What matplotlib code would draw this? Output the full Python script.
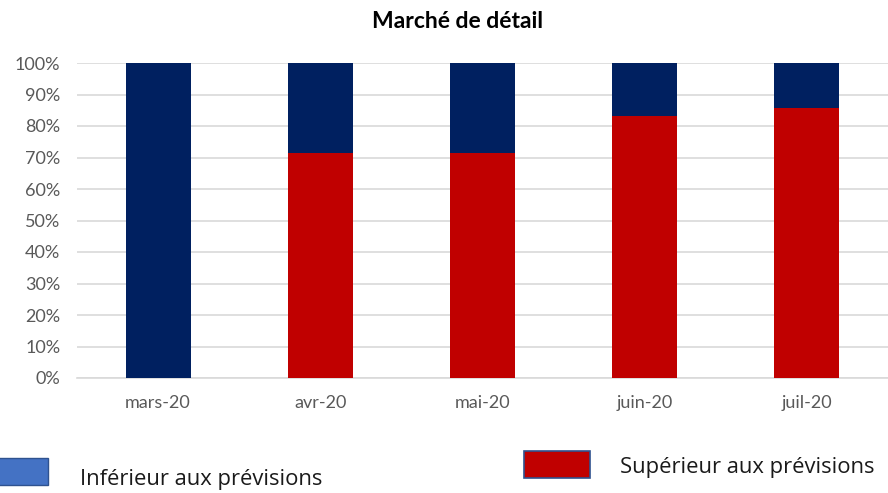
import matplotlib
matplotlib.use("Agg")
import matplotlib.pyplot as plt
from matplotlib.patches import Rectangle
import numpy as np

categories = ["mars-20", "avr-20", "mai-20", "juin-20", "juil-20"]
superieur = [0.0, 71.4, 71.4, 83.3, 85.7]
inferieur = [100.0, 28.6, 28.6, 16.7, 14.3]
yticks = [0, 10, 20, 30, 40, 50, 60, 70, 80, 90, 100]
ytick_labels = [f"{v}%" for v in yticks]
title = "Marché de détail"
legend_labels = ["Inférieur aux prévisions", "Supérieur aux prévisions"]

W, H = 888, 493
fig = plt.figure(figsize=(W / 100, H / 100), dpi=100)
ax = fig.add_axes([77 / W, 1 - 378 / H, (888 - 77) / W, (378 - 63) / H])

x = np.arange(len(categories))
red = "#C00000"
navy = "#002060"
ax.bar(x, superieur, width=0.4, color=red, zorder=3)
ax.bar(x, inferieur, width=0.4, bottom=superieur, color=navy, zorder=3)

ax.set_xlim(-0.5, len(categories) - 0.5)
ax.set_ylim(0, 100)
ax.set_yticks(yticks)
ax.set_yticklabels(ytick_labels)
ax.set_xticks(x)
ax.set_xticklabels(categories)
for lab in ax.get_yticklabels() + ax.get_xticklabels():
    lab.set_fontfamily("Lato")
    lab.set_fontsize(13)
    lab.set_color("#595959")
ax.tick_params(axis="y", length=0, pad=12)
ax.tick_params(axis="x", length=0, pad=12)
ax.yaxis.grid(True, color="#D9D9D9", linewidth=1.2, zorder=0)
for s in ["top", "right", "left"]:
    ax.spines[s].set_visible(False)
ax.spines["bottom"].set_color("#D9D9D9")
ax.spines["bottom"].set_linewidth(1.2)

fig.text(457 / W, 1 - 21 / H, title, ha="center", va="center",
         fontsize=16.5, fontweight="bold", fontfamily="Lato")

# legend drawn manually
fig.patches.append(Rectangle((-2 / W, 1 - 485 / H), 50 / W, 27 / H,
                             transform=fig.transFigure, facecolor="#4472C4",
                             edgecolor="#2F528F", linewidth=1))
fig.text(80 / W, 1 - 480 / H, legend_labels[0], ha="left", va="center",
         fontsize=15.8, fontfamily="Open Sans", color="#1a1a1a")
fig.patches.append(Rectangle((524 / W, 1 - 478 / H), 66 / W, 27 / H,
                             transform=fig.transFigure, facecolor=red,
                             edgecolor="#2F528F", linewidth=1.2))
fig.text(620 / W, 1 - 467 / H, legend_labels[1], ha="left", va="center",
         fontsize=15.8, fontfamily="Open Sans", color="#1a1a1a")

fig.savefig("out.png", dpi=100)
